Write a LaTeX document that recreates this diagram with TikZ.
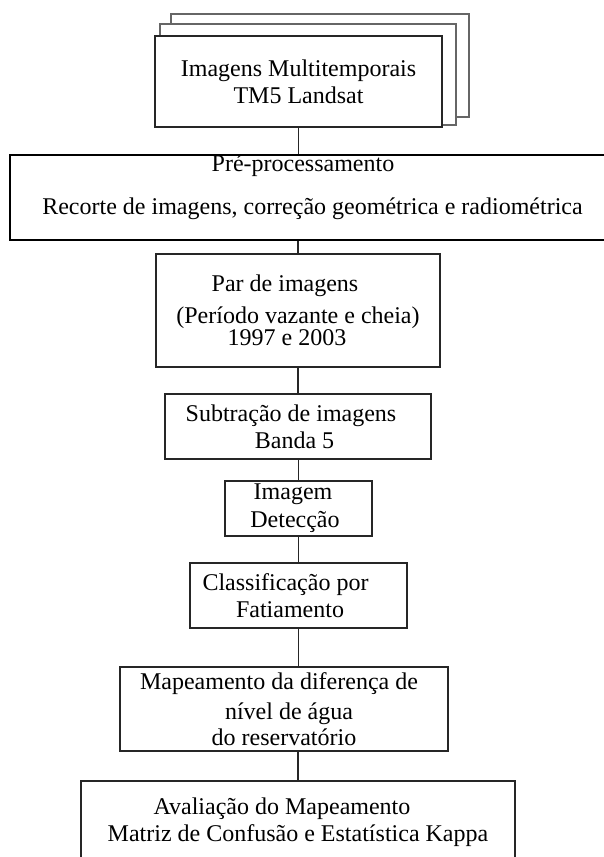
\documentclass[tikz,border=0pt]{standalone}
\usepackage{fontspec}
\setmainfont{Liberation Serif}
\usepackage{tikz}
\usetikzlibrary{positioning, calc}
\tikzstyle{stepbox} = [rectangle, inner sep=0pt, text centered, align=center, draw=black!85, line width=1.1pt, fill=white, font=\fontsize{24}{27}\selectfont]
\tikzstyle{sheet} = [rectangle, inner sep=0pt, draw=black!60, line width=1.3pt, fill=white]
\tikzstyle{bigbox} = [stepbox, draw=black, line width=2.2pt]
\tikzstyle{link} = [draw=black!85, line width=1.1pt]

\begin{document}
\begin{tikzpicture}[x=1pt, y=-1pt]
\useasboundingbox (0,0) rectangle (603,857);

% Image stack
\node (sheetC) [sheet, minimum width=298pt, minimum height=103pt] at (320,65.5) {};
\node (sheetB) [sheet, minimum width=296pt, minimum height=101pt] at (308,74.5) {};
\node (imgs) [stepbox, minimum width=287pt, minimum height=91pt] at (298.5,81.5) {Imagens Multitemporais\\TM5 Landsat};

% Processing steps
\node (pre) [bigbox, minimum width=605pt, minimum height=79pt] at (312.5,197.5) {Pré-processamento\hspace*{19pt}\\[16pt]Recorte de imagens, correção geométrica e radiométrica\\[-2pt]\mbox{}};
\node (par) [stepbox, minimum width=284pt, minimum height=113pt] at (298,310.5) {Par de imagens\hspace*{26pt}\\[5pt](Período vazante e cheia)\\[-5pt]1997 e 2003\hspace*{22pt}};
\node (sub) [stepbox, minimum width=266pt, minimum height=65pt] at (298,426.5) {Subtração de imagens\hspace*{14pt}\\Banda 5\hspace*{7pt}};
\node (det) [stepbox, minimum width=147pt, minimum height=55pt] at (298.5,508.5) {Imagem\hspace*{11pt}\\[1pt]Detecção\hspace*{7pt}};
\node (cls) [stepbox, minimum width=217pt, minimum height=65pt] at (298.5,595.5) {Classificação por\hspace*{26pt}\\Fatiamento\hspace*{17pt}};
\node (map) [stepbox, minimum width=328pt, minimum height=84pt] at (284,709) {Mapeamento da diferença de\hspace*{10pt}\\[3pt]\hspace*{10pt}nível de água\\[-1pt]do reservatório};

% Evaluation
\node (aval) [stepbox, minimum width=434pt, minimum height=83pt] at (298,822.5) {Avaliação do Mapeamento\hspace*{32pt}\\Matriz de Confusão e Estatística Kappa};

% Links
\draw [link] (imgs.south) -- (imgs.south |- pre.north);
\draw [link] (par.north |- pre.south) -- (par.north);
\draw [link] (par.south) -- (sub.north);
\draw [link] (det.north |- sub.south) -- (det.north);
\draw [link] (det.south) -- (cls.north);
\draw [link] (cls.south) -- (cls.south |- map.north);
\draw [link] (aval.north |- map.south) -- (aval.north);
\end{tikzpicture}
\end{document}
